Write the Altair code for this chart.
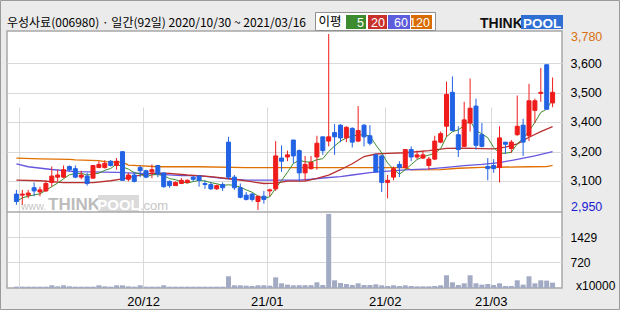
import altair as alt
import pandas as pd

# ---------------- data ----------------
opens = [3025, 3020, 3020, 3055, 3035, 3040, 3080, 3105, 3105, 3155,
         3145, 3105, 3110, 3100, 3150, 3150, 3180, 3160, 3225, 3095,
         3115, 3150, 3135, 3130, 3160, 3125, 3085, 3065, 3075, 3080,
         3105, 3110, 3075, 3070, 3050, 3070, 3270, 3105, 3055, 3020,
         3025, 2990, 3015, 3040, 3050, 3195, 3200, 3280, 3230, 3125,
         3145, 3200, 3295, 3275, 3315, 3350, 3290, 3335, 3275, 3350,
         3300, 3210, 3205, 3080, 3105, 3165, 3150, 3235, 3200, 3195,
         3160, 3190, 3270, 3345, 3505, 3305, 3250, 3360, 3440, 3305,
         3155, 3160, 3150, 3270, 3240, 3305, 3350, 3300, 3420, 3500,
         3635, 3455]
highs = [3045, 3045, 3045, 3080, 3060, 3090, 3155, 3140, 3160, 3160,
         3160, 3135, 3125, 3160, 3180, 3185, 3185, 3195, 3225, 3125,
         3130, 3160, 3140, 3165, 3160, 3125, 3090, 3085, 3100, 3095,
         3110, 3115, 3090, 3080, 3070, 3080, 3295, 3115, 3075, 3035,
         3030, 3015, 3040, 3050, 3275, 3255, 3230, 3280, 3235, 3205,
         3205, 3300, 3295, 3780, 3355, 3355, 3345, 3340, 3440, 3355,
         3350, 3215, 3210, 3115, 3155, 3180, 3235, 3250, 3230, 3230,
         3200, 3300, 3320, 3555, 3580, 3345, 3460, 3570, 3475, 3360,
         3195, 3190, 3345, 3270, 3280, 3490, 3380, 3545, 3475, 3620,
         3635, 3575]
lows = [2975, 2975, 3005, 3015, 3015, 3035, 3060, 3085, 3100, 3130,
        3100, 3095, 3065, 3100, 3150, 3145, 3155, 3140, 3090, 3085,
        3080, 3105, 3100, 3100, 3105, 3055, 3055, 3065, 3075, 3075,
        3085, 3060, 3050, 3045, 3045, 3040, 3095, 3045, 3005, 2995,
        2990, 2950, 2980, 3015, 3040, 3130, 3180, 3170, 3085, 3090,
        3140, 3140, 3210, 3250, 3210, 3270, 3270, 3245, 3270, 3250,
        3255, 3125, 3035, 3005, 3090, 3105, 3145, 3180, 3190, 3190,
        3140, 3185, 3265, 3295, 3320, 3200, 3250, 3320, 3235, 3245,
        3090, 3125, 3080, 3215, 3220, 3300, 3205, 3275, 3360, 3460,
        3425, 3435]
closes = [2990, 3025, 3030, 3040, 3045, 3075, 3110, 3115, 3140, 3140,
          3105, 3115, 3075, 3160, 3165, 3170, 3160, 3180, 3090, 3115,
          3085, 3135, 3105, 3140, 3120, 3060, 3065, 3080, 3090, 3090,
          3095, 3090, 3070, 3050, 3065, 3055, 3105, 3055, 3010, 3000,
          3000, 3015, 3000, 3045, 3205, 3180, 3210, 3205, 3125, 3165,
          3175, 3265, 3230, 3295, 3295, 3290, 3340, 3270, 3325, 3295,
          3265, 3130, 3080, 3090, 3145, 3150, 3235, 3200, 3210, 3210,
          3190, 3275, 3310, 3495, 3325, 3235, 3375, 3430, 3255, 3250,
          3145, 3145, 3290, 3260, 3270, 3345, 3270, 3465, 3465, 3505,
          3425, 3505]
# volume in units of 10000 shares
volumes = [38, 38, 38, 38, 38, 38, 76, 47, 76, 47,
           38, 38, 38, 38, 76, 47, 38, 76, 76, 47,
           38, 76, 38, 38, 38, 76, 38, 38, 38, 38,
           38, 38, 38, 38, 38, 38, 330, 76, 76, 66,
           57, 76, 76, 66, 300, 132, 95, 76, 80, 80,
           80, 160, 85, 2090, 217, 142, 113, 85, 132, 85,
           85, 104, 76, 57, 76, 57, 76, 57, 47, 47,
           47, 57, 76, 359, 161, 85, 132, 359, 132, 95,
           113, 85, 132, 57, 57, 217, 95, 330, 132, 217,
           208, 151]

ma20_idx = [0, 4, 8, 13, 16, 18, 21, 23, 26, 29, 33, 37, 39, 42, 44, 46, 49, 51, 53, 55,
            57, 59, 61, 63, 66, 70, 73, 76, 79, 81, 83, 85, 87, 89, 91]
ma20_val = [3091, 3088, 3079, 3079, 3088, 3097, 3115, 3124, 3123, 3115, 3107, 3095, 3087, 3075,
            3077, 3086, 3086, 3099, 3115, 3140, 3168, 3202, 3214, 3217, 3220, 3230, 3241, 3242,
            3239, 3238, 3246, 3262, 3293, 3320, 3343]
ma60_idx = [0, 2, 6, 10, 17, 23, 28, 31, 35, 39, 48, 50, 52, 55, 57, 60, 62, 66, 70, 73,
            76, 79, 82, 85, 88, 91]
ma60_val = [3168, 3154, 3141, 3131, 3127, 3120, 3112, 3112, 3099, 3091, 3091, 3095, 3101, 3107,
            3115, 3126, 3131, 3139, 3144, 3151, 3159, 3165, 3173, 3189, 3205, 3225]
ma120_idx = [0, 4, 9, 10, 14, 15, 18, 19, 24, 31, 39, 66, 67, 72, 75, 79, 87, 90, 91]
ma120_val = [3195, 3191, 3189, 3186, 3183, 3178, 3176, 3162, 3154, 3154, 3150, 3150, 3139, 3140,
             3147, 3151, 3154, 3155, 3160]

month_pos = [0.5, 21.5, 42.5, 62.5, 80.5]
month_labels = ["", "20/12", "21/01", "21/02", "21/03"]
price_grid = [3641.8, 3503.2, 3366.4, 3224.9, 3088.2]
price_grid_labels = ["3,600", "3,500", "3,400", "3,200", "3,100"]
vol_grid = [720, 1429]
vol_grid_labels = ["720", "1429"]

title_text = "우성사료(006980) · 일간(92일) 2020/10/30 ~ 2021/03/16"
ma_names = ["5", "20", "60", "120"]

# ---------------- style ----------------
W, H, PH = 555, 257, 181
X_DOMAIN = [-0.75, 91.75]
PRICE_DOMAIN = [2940.6, 3794.1]
VOL_DOMAIN = [0, 2143]
RED, BLUE = "#f01c1c", "#2262e4"
GREEN_L, RED_L, PURPLE_L, ORANGE_L = "#3c8c2a", "#b83030", "#6656e0", "#e07000"
LEG_COLORS = ["#3e8a2e", "#c8302c", "#5c5cdc", "#d96c00"]
GRID = "#d9d9d9"
BORDER = "#a8a8a8"
VOLC = "#a2aac4"
NUM_FONT = "Liberation Sans"
KR_FONT = "Noto Sans CJK KR"

n = len(closes)
candles = pd.DataFrame({"i": list(range(n)), "open": opens, "high": highs, "low": lows,
                        "close": closes, "vol": volumes})
candles["dir"] = ["up" if c >= o else "down" for o, c in zip(opens, closes)]


def lab_expr(vals, labs):
    s = ""
    for v, l in zip(vals, labs):
        s += f"abs(datum.value - {v}) < 0.05 ? '{l}' : "
    return s + "''"


xscale = alt.Scale(domain=X_DOMAIN, nice=False, zero=False)
pscale = alt.Scale(domain=PRICE_DOMAIN, range=[PH, 0], nice=False, zero=False)
vscale = alt.Scale(domain=VOL_DOMAIN, range=[H, PH], nice=False, zero=False)
cscale = alt.Scale(domain=["up", "down"], range=[RED, BLUE])

x_axis = alt.Axis(values=month_pos, labelExpr=lab_expr(month_pos, month_labels), grid=True,
                  gridColor=GRID, gridWidth=1, ticks=False, domain=False, labelPadding=7,
                  labelFont=NUM_FONT, labelFontSize=13, labelColor="#000", title=None,
                  labelFlush=False, labelOverlap=False)
p_axis = alt.Axis(orient="right", values=price_grid,
                  labelExpr=lab_expr(price_grid, price_grid_labels), grid=True, gridColor=GRID,
                  gridWidth=1, ticks=False, domain=False, labelPadding=8, labelFont=NUM_FONT,
                  labelFontSize=12.5, labelColor="#000", title=None, labelOverlap=False)
v_axis = alt.Axis(orient="right", values=vol_grid, labelExpr=lab_expr(vol_grid, vol_grid_labels),
                  grid=True, gridColor=GRID, gridWidth=1, ticks=False, domain=False,
                  labelPadding=8, labelFont=NUM_FONT, labelFontSize=12, labelColor="#000",
                  title=None, labelOverlap=False)

X = alt.X("i:Q", scale=xscale, axis=x_axis)


def PY(field):
    return alt.Y(field, scale=pscale, axis=p_axis)


one = pd.DataFrame({"a": [0]})


def deco_text(text, x, y, size, color, font, weight="normal", align="left", baseline="middle"):
    return alt.Chart(pd.DataFrame({"t": [text]})).mark_text(
        align=align, baseline=baseline, font=font, fontSize=size, fontWeight=weight, color=color
    ).encode(x=alt.value(x), y=alt.value(y), text="t:N")


def deco_rect(x, x2, y, y2, fill, stroke=None):
    if stroke:
        m = alt.Chart(one).mark_rect(fill=fill, stroke=stroke, strokeWidth=1)
    else:
        m = alt.Chart(one).mark_rect(color=fill)
    return m.encode(x=alt.value(x), x2=alt.value(x2), y=alt.value(y), y2=alt.value(y2))


# watermark
watermark = [
    deco_text("www.", 14, 179, 10.5, "#c6c6c6", NUM_FONT, baseline="alphabetic"),
    deco_text("THINK", 41, 179, 17, "#bcbcbc", NUM_FONT, "bold", baseline="alphabetic"),
    deco_rect(91, 132, 164, 181, "#dadada"),
    deco_text("POOL", 111.5, 179, 15, "#ffffff", NUM_FONT, "bold", align="center", baseline="alphabetic"),
    deco_text(".com", 133, 179, 13, "#c6c6c6", NUM_FONT, baseline="alphabetic"),
]

base = alt.Chart(candles)


def ma_line(idx, vals, color, width=1.2):
    d = pd.DataFrame({"i": idx, "v": vals})
    return alt.Chart(d).mark_line(color=color, strokeWidth=width).encode(x=X, y=PY("v:Q"))


ma120 = ma_line(ma120_idx, ma120_val, ORANGE_L, 1.3)
ma60 = ma_line(ma60_idx, ma60_val, PURPLE_L, 1.3)
ma20 = ma_line(ma20_idx, ma20_val, RED_L, 1.3)
ma5 = base.transform_window(
    ma5="mean(close)", frame=[-4, 0], sort=[alt.SortField("i")]
).mark_line(color=GREEN_L, strokeWidth=1).encode(x=X, y=PY("ma5:Q"))

wicks = base.mark_rule(strokeWidth=1).encode(
    x=X, y=PY("low:Q"), y2="high:Q",
    color=alt.Color("dir:N", scale=cscale, legend=None),
)
bodies = base.mark_bar(size=4, strokeWidth=1).encode(
    x=X, y=PY("open:Q"), y2="close:Q",
    color=alt.Color("dir:N", scale=cscale, legend=None),
    stroke=alt.Stroke("dir:N", scale=cscale, legend=None),
)

ext_max = pd.DataFrame({"v": [max(highs)], "t": [f"{max(highs):,}"]})
ext_min = pd.DataFrame({"v": [min(lows)], "t": [f"{min(lows):,}"]})
max_lab = alt.Chart(ext_max).mark_text(align="left", baseline="middle", font=NUM_FONT,
                                       fontSize=12.5, color="#d87010", dy=3).encode(
    x=alt.value(W + 9), y=PY("v:Q"), text="t:N")
min_lab = alt.Chart(ext_min).mark_text(align="left", baseline="middle", font=NUM_FONT,
                                       fontSize=12.5, color="#1a1ad0", dy=-3).encode(
    x=alt.value(W + 9), y=PY("v:Q"), text="t:N")

separator = alt.Chart(one).mark_rule(color=BORDER, strokeWidth=1.5).encode(
    x=alt.value(0), x2=alt.value(W), y=alt.value(PH))

# header
header = [deco_text(title_text, 0, -8.5, 12, "#000", KR_FONT)]
header.append(deco_rect(308.5, 428.5, -18.5, -0.5, "#ffffff", "#909090"))
header.append(deco_text("이평", 323, -9.5, 12.5, "#000", KR_FONT, align="center"))
leg_x = [(339, 359), (361, 380), (381, 403), (404, 425)]
for (x1, x2), name, col in zip(leg_x, ma_names, LEG_COLORS):
    header.append(deco_rect(x1, x2, -16, -2, col))
    header.append(deco_text(name, x2 - 2, -8.5, 12.5, "#ffffff", NUM_FONT, align="right"))
# logo
header.append(deco_text("THINK", 473, -3, 14, "#111111", NUM_FONT, "bold", baseline="alphabetic"))
header.append(deco_rect(514, 556, -16, -2, "#2f6fd4"))
header.append(deco_text("POOL", 535, -3, 13.5, "#ffffff", NUM_FONT, "bold", align="center",
                        baseline="alphabetic"))

unit_lab = deco_text("x10000", W + 14, H - 2, 12, "#000", NUM_FONT)

outer_border = alt.Chart(one).mark_rect(fillOpacity=0, stroke="#9a9a9a", strokeWidth=1).encode(
    x=alt.value(-6.5), x2=alt.value(612.5), y=alt.value(-30.5), y2=alt.value(278.5))

price = alt.layer(*watermark, ma120, ma60, ma20, ma5, wicks, bodies, max_lab, min_lab,
                  separator, unit_lab, *header, outer_border)

vol = base.mark_bar(size=5, color=VOLC).encode(
    x=X, y=alt.Y("vol:Q", scale=vscale, axis=v_axis))

chart = alt.layer(price, vol).resolve_scale(y="independent").properties(
    width=W, height=H,
    autosize=alt.AutoSizeParams(type="none"),
    padding={"left": 7, "top": 31, "right": 58, "bottom": 22},
    background="#ebebeb",
).configure_view(fill="white", stroke=BORDER, strokeWidth=1.5)

chart.save("out.html", embed_options={"renderer": "svg", "actions": False})
